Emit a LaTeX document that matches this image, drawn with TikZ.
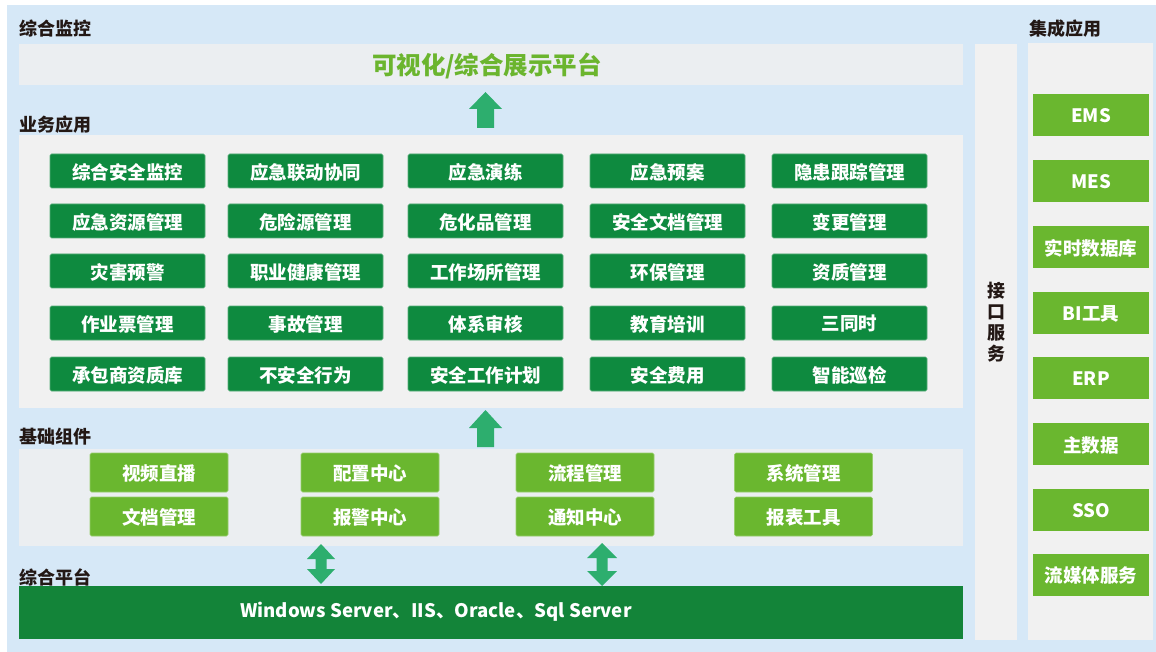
\documentclass[tikz,border=0pt]{standalone}
\usepackage{fontspec}
\setmainfont{Noto Sans CJK SC}
\definecolor{bgblue}{RGB}{214,232,247}
\definecolor{panelA}{RGB}{235,238,241}
\definecolor{panelB}{RGB}{241,241,241}
\definecolor{dgreen}{RGB}{14,138,63}
\definecolor{bargreen}{RGB}{19,132,57}
\definecolor{lgreen}{RGB}{106,183,47}
\definecolor{arrgreen}{RGB}{45,174,110}
\definecolor{titlegreen}{RGB}{107,181,46}
\definecolor{labelc}{RGB}{35,24,21}
\tikzset{
  panel/.style={draw=none, inner sep=0pt, outer sep=0pt},
  lbl/.style={anchor=west, inner sep=0pt, text=labelc, font=\bfseries\fontsize{18}{18}\selectfont},
  dbox/.style={fill=dgreen, draw=dgreen!70!white, line width=0.6pt, rounded corners=1.5pt, minimum width=155pt, minimum height=34pt, inner sep=0pt, text=white, font=\bfseries\fontsize{18.5}{18.5}\selectfont},
  lbox/.style={fill=lgreen, draw=lgreen!70!white, line width=0.6pt, rounded corners=1.5pt, minimum width=138pt, minimum height=39pt, inner sep=0pt, text=white, font=\bfseries\fontsize{18.5}{18.5}\selectfont},
  ibox/.style={fill=lgreen, draw=none, minimum width=116pt, minimum height=42pt, inner sep=0pt, text=white, font=\bfseries\fontsize{18.5}{18.5}\selectfont},
  txt/.style={inner sep=0pt, text=white, font=\bfseries\fontsize{18.5}{18.5}\selectfont},
  blk/.style={fill=arrgreen, draw=none}
}
\begin{document}
\begin{tikzpicture}[x=1pt,y=-1pt]
\useasboundingbox (0,0) rectangle (1156,652);
\fill[white] (0,0) rectangle (1156,652);
\fill[bgblue] (7,5) rectangle (1156,652);
% panels
\node[panel, fill=panelA, minimum width=944pt, minimum height=41pt] (top) at (491,64.5) {};
\node[panel, fill=panelB, minimum width=944pt, minimum height=273pt] (biz) at (491,271.5) {};
\node[panel, fill=panelA, minimum width=944pt, minimum height=97pt] (base) at (491,497.5) {};
\node[panel, fill=bargreen, minimum width=944pt, minimum height=53pt] (plat) at (491,612.5) {};
\node[panel, fill=panelB, minimum width=42pt, minimum height=596pt] (intf) at (996,342) {};
\node[panel, fill=panelB, minimum width=125pt, minimum height=597pt] (integ) at (1090.5,341.5) {};
% labels
\node[lbl] (l1) at (19,28.5) {综合监控};
\node[lbl] (l2) at (19,124.5) {业务应用};
\node[lbl] (l3) at (19,436.5) {基础组件};
\node[lbl] (l4) at (19,577.5) {综合平台};
\node[lbl] (l5) at (1029,28.5) {集成应用};
% title
\node[text=titlegreen, font=\bfseries\fontsize{24.5}{24.5}\selectfont] (title) at (487,66) {可视化/综合展示平台};
\node[text=white, font=\bfseries\fontsize{18.6}{18.6}\selectfont] (ptext) at (436,611.5) {Windows Server、IIS、Oracle、Sql Server};
\node[align=center, text=labelc, font=\bfseries\fontsize{18}{21}\selectfont] (itext) at (996,322) {接\\口\\服\\务};
% business boxes
\foreach \t [count=\i from 0] in {综合安全监控,应急联动协同,应急演练,应急预案,隐患跟踪管理,
  应急资源管理,危险源管理,危化品管理,安全文档管理,变更管理,
  灾害预警,职业健康管理,工作场所管理,环保管理,资质管理,
  作业票管理,事故管理,体系审核,教育培训,三同时,
  承包商资质库,不安全行为,安全工作计划,安全费用,智能巡检}{
  \pgfmathtruncatemacro\r{int(\i/5)}
  \pgfmathtruncatemacro\c{mod(\i,5)}
  \pgfmathsetmacro\cx{{127.5,305.5,485.5,667.5,849.5}[\c]}
  \pgfmathsetmacro\cy{{171,221,271,323,374}[\r]}
  \node[dbox] (b\r\c) at (\cx,\cy) {};
  \node[txt] at ([yshift=-1pt]b\r\c.center) {\t};
}
% basic components
\foreach \t [count=\i from 0] in {视频直播,配置中心,流程管理,系统管理,文档管理,报警中心,通知中心,报表工具}{
  \pgfmathtruncatemacro\r{int(\i/4)}
  \pgfmathtruncatemacro\c{mod(\i,4)}
  \pgfmathsetmacro\cx{{159,370,585,803.5}[\c]}
  \pgfmathsetmacro\cy{{472.5,516.5}[\r]}
  \node[lbox] (c\r\c) at (\cx,\cy) {};
  \node[txt] at ([yshift=-1pt]c\r\c.center) {\t};
}
% integration
\foreach \t [count=\i from 0] in {EMS,MES,实时数据库,BI工具,ERP,主数据,SSO,流媒体服务}{
  \pgfmathsetmacro\cy{{115,181,247,313,378,444,510,574.5}[\i]}
  \node[ibox] (e\i) at (1091,\cy) {};
  \node[txt] at ([yshift=-1pt]e\i.center) {\t};
}
% block arrows
\fill[blk] (485.5,92) -- (502,109) -- (494,109) -- (494,128) -- (477,128) -- (477,109) -- (469,109) -- cycle;
\fill[blk] (485.5,410) -- (502,428) -- (494,428) -- (494,447) -- (477,447) -- (477,428) -- (469,428) -- cycle;
\fill[blk] (321,544) -- (335,559) -- (326.5,559) -- (326.5,569) -- (335,569) -- (321,584) -- (307,569) -- (315.5,569) -- (315.5,559) -- (307,559) -- cycle;
\fill[blk] (602,543) -- (617,558) -- (607.5,558) -- (607.5,571) -- (617,571) -- (602,586) -- (587,571) -- (596.5,571) -- (596.5,558) -- (587,558) -- cycle;
\end{tikzpicture}
\end{document}
